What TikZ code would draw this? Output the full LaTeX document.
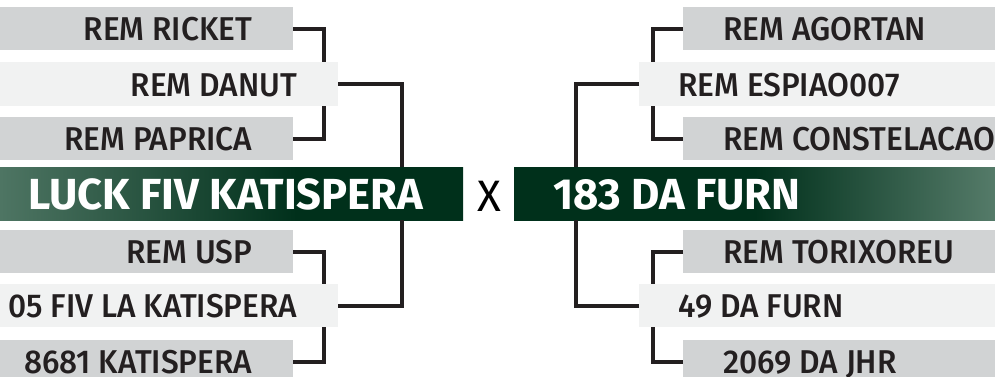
\documentclass[tikz,border=0pt]{standalone}
\usepackage{fontspec}
\setmainfont{Fira Sans}
\newfontfamily\lblfont[FakeStretch=0.96]{Fira Sans Medium}
\newfontfamily\teamfont{Fira Sans Bold}
\newfontfamily\vsfont{Fira Sans}
\usetikzlibrary{calc}
\definecolor{boxgray}{HTML}{D1D3D4}
\definecolor{boxlight}{HTML}{F1F2F2}
\definecolor{ink}{HTML}{231F20}
\definecolor{gLight}{HTML}{4E7563}
\definecolor{gDark}{HTML}{00301B}
\definecolor{gLightR}{HTML}{557B69}
\pgfdeclarehorizontalshading{leftbar}{100bp}{color(0bp)=(gLight); color(25bp)=(gLight); color(57bp)=(gDark); color(100bp)=(gDark)}
\pgfdeclarehorizontalshading{rightbar}{100bp}{color(0bp)=(gDark); color(50bp)=(gDark); color(75bp)=(gLightR); color(100bp)=(gLightR)}
\tikzset{
  x=1pt, y=-1pt,
  shortbox/.style={fill=boxgray, draw=none, minimum width=312pt, minimum height=43pt, inner sep=0pt},
  longbox/.style={fill=boxlight, draw=none, minimum width=356pt, minimum height=44pt, inner sep=0pt},
  lbl/.style={font=\lblfont\fontsize{33}{33}\selectfont, text=ink, inner sep=0pt},
  team/.style={font=\teamfont\fontsize{43.5}{43.5}\selectfont, text=white, inner sep=0pt},
  bar/.style={draw=none, minimum height=53pt, inner sep=0pt},
  wire/.style={draw=ink, line width=4pt}
}
\begin{document}
\begin{tikzpicture}
\clip (0,0) rectangle (995,376);
\fill[white] (0,0) rectangle (995,376);
% ---------- left side ----------
\node[shortbox, minimum width=293pt, anchor=north west] (L1) at (0,7) {};
\node[shortbox, minimum width=293pt, anchor=north west] (L3) at (0,117) {};
\draw[wire] (L1.east) -- ++(31,0) |- (L3.east);
\node[longbox, minimum width=338pt, anchor=north west] (L2) at (0,62) {};
\node[lbl, anchor=base east] (tL1) at ($(L1.east)+(-41,12)$) {REM RICKET};
\node[lbl, anchor=base east] (tL2) at ($(L2.east)+(-41,12)$) {REM DANUT};
\node[lbl, anchor=base east] (tL3) at ($(L3.east)+(-41,12)$) {REM PAPRICA};

\node[shortbox, minimum width=293pt, anchor=north west] (L4) at (0,230) {};
\node[shortbox, minimum width=293pt, anchor=north west] (L6) at (0,340) {};
\draw[wire] (L4.east) -- ++(31,0) |- (L6.east);
\node[longbox, minimum width=338pt, minimum height=43pt, anchor=north west] (L5) at (0,284) {};
\node[lbl, anchor=base east] (tL4) at ($(L4.east)+(-41,12)$) {REM USP};
\node[lbl, anchor=base east] (tL5) at ($(L5.east)+(-41,12)$) {05 FIV LA KATISPERA};
\node[lbl, anchor=base east] (tL6) at ($(L6.east)+(-41,12)$) {8681 KATISPERA};

\node[bar, minimum width=463pt, shading=leftbar, anchor=north west] (gL) at (0,167) {};
\node[team, anchor=base east] (tgL) at ($(gL.east)+(-40,16)$) {LUCK FIV KATISPERA};
\coordinate (jL) at (402,0);
\draw[wire] (L2.east) -| (jL |- gL.north);
\draw[wire] (L5.east) -| (jL |- gL.south);

% ---------- versus ----------
\node[font=\vsfont\fontsize{44}{44}\selectfont, text=black, inner sep=0pt, anchor=base] (vs) at (489,211) {X};

% ---------- right side ----------
\node[shortbox, anchor=north west] (R1) at (683,7) {};
\node[shortbox, anchor=north west] (R3) at (683,117) {};
\draw[wire] (R1.west) -- ++(-30,0) |- (R3.west);
\node[longbox, anchor=north west] (R2) at (639,62) {};
\node[lbl, anchor=base west] (tR1) at ($(R1.west)+(40,12)$) {REM AGORTAN};
\node[lbl, anchor=base west] (tR2) at ($(R2.west)+(39,12)$) {REM ESPIAO007};
\node[lbl, anchor=base west] (tR3) at ($(R3.west)+(40,12)$) {REM CONSTELACAO};

\node[shortbox, anchor=north west] (R4) at (683,230) {};
\node[shortbox, anchor=north west] (R6) at (683,340) {};
\draw[wire] (R4.west) -- ++(-30,0) |- (R6.west);
\node[longbox, minimum height=43pt, anchor=north west] (R5) at (639,284) {};
\node[lbl, anchor=base west] (tR4) at ($(R4.west)+(40,12)$) {REM TORIXOREU};
\node[lbl, anchor=base west] (tR5) at ($(R5.west)+(39,12)$) {49 DA FURN};
\node[lbl, anchor=base west] (tR6) at ($(R6.west)+(40,12)$) {2069 DA JHR};

\node[bar, minimum width=481pt, shading=rightbar, anchor=north west] (gR) at (514,167) {};
\node[team, anchor=base west] (tgR) at ($(gR.west)+(39,16)$) {183 DA FURN};
\coordinate (jR) at (576,0);
\draw[wire] (R2.west) -| (jR |- gR.north);
\draw[wire] (R5.west) -| (jR |- gR.south);
\end{tikzpicture}
\end{document}
